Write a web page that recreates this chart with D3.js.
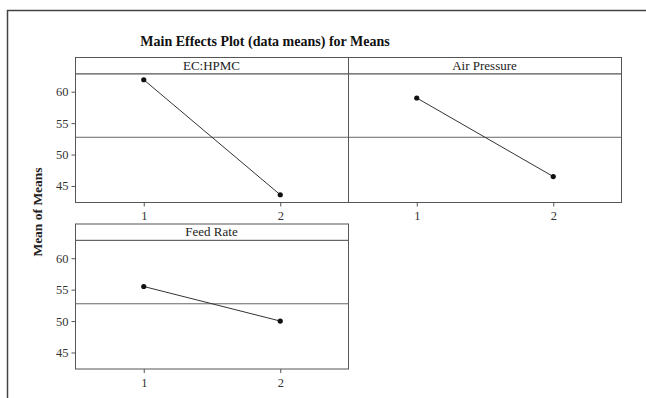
<!DOCTYPE html>
<html>
<head>
<meta charset="utf-8">
<script src="https://cdn.jsdelivr.net/npm/d3@7"></script>
<style>
  html, body { margin: 0; padding: 0; background: #fff; }
  svg { display: block; }
  text { font-family: "Liberation Serif", "Times New Roman", serif; }
</style>
</head>
<body>
<svg id="chart" width="646" height="398"></svg>
<script>
// Factor names and their level labels
const factors = ["EC:HPMC", "Air Pressure", "Feed Rate"];
const levels = ["1", "2"];

// Mean of means at each level, per factor
const ecHpmcMeans = [61.9, 43.6];
const airPressureMeans = [59.0, 46.5];
const feedRateMeans = [55.5, 50.0];

// Y-axis tick values
const yTicks = [45, 50, 55, 60];

const seriesByFactor = [ecHpmcMeans, airPressureMeans, feedRateMeans];
const grandMean = d3.mean(ecHpmcMeans.concat(airPressureMeans, feedRateMeans));

const svg = d3.select("#chart");
const ink = "#333";

// Outer frame
svg.append("path")
  .attr("d", "M7.5,398 L7.5,10.5 L646,10.5")
  .attr("fill", "none")
  .attr("stroke", "#444")
  .attr("stroke-width", 1.5);

// Title
svg.append("text")
  .attr("x", 265)
  .attr("y", 46)
  .attr("text-anchor", "middle")
  .attr("font-size", 14)
  .attr("font-weight", "bold")
  .attr("fill", "#111")
  .text("Main Effects Plot (data means) for Means");

// Panel layout: 2 columns, strip header above each plot region
const panelW = 273, stripH = 16.3, plotH = 128.7;
const panelOrigins = [
  { x: 75, y: 57, col: 0 },
  { x: 348, y: 57, col: 1 },
  { x: 75, y: 223.5, col: 0 }
];

const y = d3.scaleLinear().domain([42.45, 62.93]).range([plotH, 0]);
const x = d3.scalePoint().domain(levels).range([0, panelW]).padding(0.5);

factors.forEach((name, i) => {
  const o = panelOrigins[i];
  const g = svg.append("g").attr("transform", `translate(${o.x},${o.y})`);
  const plot = g.append("g").attr("transform", `translate(0,${stripH})`);

  // strip header
  g.append("rect")
    .attr("x", 0.5).attr("y", 0.5)
    .attr("width", panelW).attr("height", stripH)
    .attr("fill", "#fff").attr("stroke", "#555").attr("stroke-width", 1);
  g.append("text")
    .attr("x", panelW / 2)
    .attr("y", stripH / 2 + 4.5)
    .attr("text-anchor", "middle")
    .attr("font-size", 13)
    .attr("fill", "#222")
    .text(name);

  // plot frame
  plot.append("rect")
    .attr("x", 0.5).attr("y", 0.5)
    .attr("width", panelW).attr("height", plotH)
    .attr("fill", "none").attr("stroke", "#555").attr("stroke-width", 1);

  // grand mean reference line
  plot.append("line")
    .attr("x1", 0.5).attr("x2", panelW + 0.5)
    .attr("y1", y(grandMean)).attr("y2", y(grandMean))
    .attr("stroke", "#666").attr("stroke-width", 1);

  // x axis
  const xAxis = plot.append("g")
    .attr("transform", `translate(0.5,${plotH + 0.5})`)
    .call(d3.axisBottom(x).tickSize(4).tickPadding(5));
  xAxis.select(".domain").remove();
  xAxis.selectAll("line").attr("stroke", "#555");
  xAxis.selectAll("text")
    .attr("font-family", "'Liberation Serif', serif")
    .attr("font-size", 12.5).attr("fill", "#333");

  // y axis on the left column only
  if (o.col === 0) {
    const yAxis = plot.append("g")
      .attr("transform", "translate(0.5,0)")
      .call(d3.axisLeft(y).tickValues(yTicks).tickSize(4).tickPadding(3));
    yAxis.select(".domain").remove();
    yAxis.selectAll("line").attr("stroke", "#555");
    yAxis.selectAll("text")
      .attr("font-family", "'Liberation Serif', serif")
      .attr("font-size", 12.5).attr("fill", "#333");
  }

  // main effect line and points
  const pts = seriesByFactor[i].map((v, k) => [x(levels[k]) + 0.5, y(v)]);
  plot.append("path")
    .attr("d", d3.line()(pts))
    .attr("fill", "none").attr("stroke", ink).attr("stroke-width", 1);
  plot.selectAll("circle.pt").data(pts).join("circle")
    .attr("class", "pt")
    .attr("cx", d => d[0]).attr("cy", d => d[1])
    .attr("r", 2.6).attr("fill", "#111");
});

// Y-axis title
svg.append("text")
  .attr("transform", "translate(42,212) rotate(-90)")
  .attr("text-anchor", "middle")
  .attr("font-size", 13.5)
  .attr("font-weight", "bold")
  .attr("fill", "#222")
  .text("Mean of Means");
</script>
</body>
</html>
